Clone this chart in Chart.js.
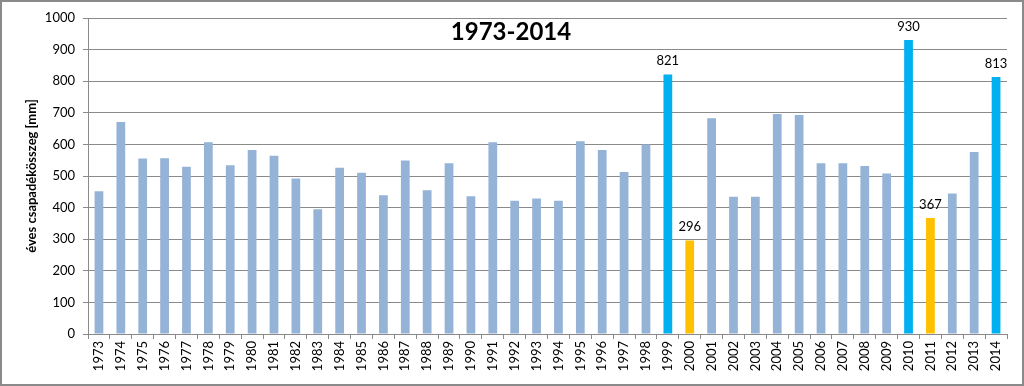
<!DOCTYPE html>
<html><head><meta charset="utf-8">
<script src="https://cdn.jsdelivr.net/npm/chart.js@4"></script>
<style>html,body{margin:0;padding:0;background:#fff}#w{width:1024px;height:386px}</style>
</head><body><div id="w"><canvas id="c" width="1024" height="386"></canvas></div>
<script>
const years = ["1973","1974","1975","1976","1977","1978","1979","1980","1981","1982","1983","1984","1985","1986","1987","1988","1989","1990","1991","1992","1993","1994","1995","1996","1997","1998","1999","2000","2001","2002","2003","2004","2005","2006","2007","2008","2009","2010","2011","2012","2013","2014"];
const precipitation = [452,671,555,556,529,607,534,582,564,492,395,526,510,439,549,455,540,436,607,422,429,422,610,582,513,600,821,296,683,434,434,696,693,540,540,532,508,930,367,445,576,813];
const wetYears = ["1999","2010","2014"];
const dryYears = ["2000","2011"];
const yTicks = [0,100,200,300,400,500,600,700,800,900,1000];
const titleText = "1973-2014";
const yTitle = "éves csapadékösszeg [mm]";

const barColors = years.map(y => wetYears.includes(y) ? "#00B0F0" : dryYears.includes(y) ? "#FFC000" : "#95B3D7");
const FONT = "Lato, 'Liberation Sans', sans-serif";

const extras = {
  id: "extras",
  afterDatasetsDraw(chart) {
    const ctx = chart.ctx;
    const meta = chart.getDatasetMeta(0);
    ctx.save();
    ctx.fillStyle = "#000";
    ctx.font = "13px " + FONT;
    ctx.textAlign = "center";
    ctx.textBaseline = "bottom";
    meta.data.forEach((bar, i) => {
      const y = years[i];
      if (wetYears.includes(y) || dryYears.includes(y)) {
        ctx.fillText(String(precipitation[i]), bar.x, bar.y - 7);
      }
    });
    ctx.font = "bold 24px " + FONT;
    ctx.textBaseline = "middle";
    ctx.fillText(titleText, 511, 32);
    ctx.restore();
  },
  afterDraw(chart) {
    const ctx = chart.ctx;
    ctx.save();
    ctx.strokeStyle = "#8a8a8a";
    ctx.lineWidth = 2;
    ctx.strokeRect(1, 1, chart.width - 2, chart.height - 2);
    ctx.restore();
  }
};

new Chart(document.getElementById("c"), {
  type: "bar",
  data: {
    labels: years,
    datasets: [{ data: precipitation, backgroundColor: barColors, barPercentage: 0.4, categoryPercentage: 1.0 }]
  },
  options: {
    responsive: false,
    animation: false,
    events: [],
    layout: { padding: { left: 2, right: 17, top: 18, bottom: 2 } },
    plugins: { legend: { display: false }, tooltip: { enabled: false }, title: { display: false } },
    scales: {
      x: {
        grid: { display: true, drawOnChartArea: false, drawTicks: true, tickLength: 5, offset: true, color: "#8a8a8a" },
        border: { color: "#8a8a8a" },
        ticks: { minRotation: 90, maxRotation: 90, autoSkip: false, color: "#000", font: { family: FONT, size: 13 }, padding: 2 },
        afterFit(s) { s.height = 50; }
      },
      y: {
        min: 0, max: 1000,
        afterBuildTicks(s) { s.ticks = yTicks.map(v => ({ value: v })); },
        grid: { color: "#8a8a8a", tickLength: 5 },
        border: { color: "#8a8a8a" },
        ticks: { color: "#000", font: { family: FONT, size: 13 }, padding: 8, callback: v => String(v) },
        title: { display: true, text: yTitle, color: "#000", font: { family: FONT, size: 13, weight: "bold" }, padding: { top: 22, bottom: 0 } },
        afterFit(s) { s.width = 86; }
      }
    }
  },
  plugins: [extras]
});
</script>
</body></html>
